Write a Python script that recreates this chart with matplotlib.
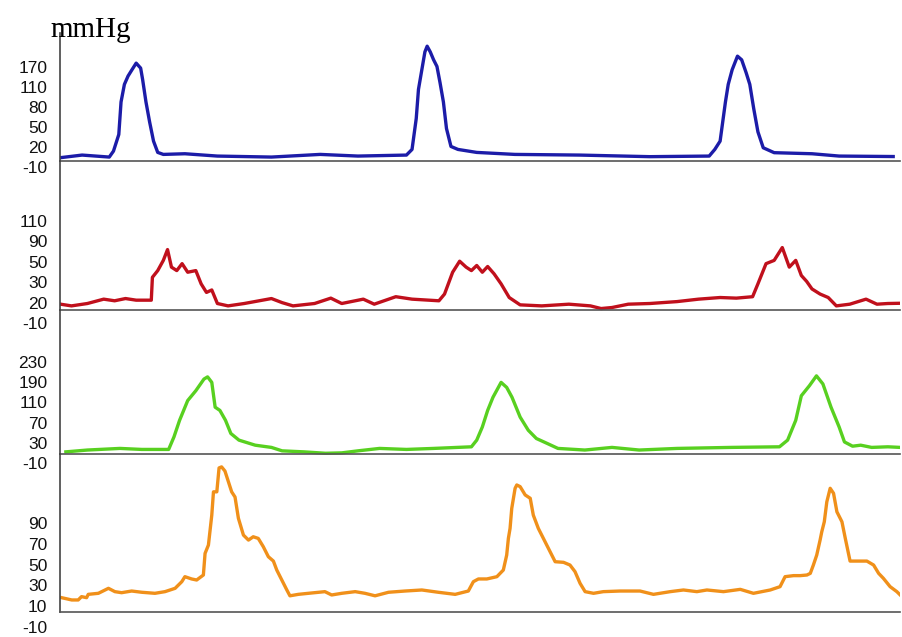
import numpy as np
import matplotlib
matplotlib.use("Agg")
import matplotlib.pyplot as plt

# time axis in seconds, pressures in mmHg
t_blue = [0.0, 0.079, 0.176, 0.191, 0.210, 0.218, 0.230, 0.243, 0.257, 0.272, 0.288, 0.295,
          0.307, 0.320, 0.334, 0.349, 0.369, 0.446, 0.562, 0.755, 0.929, 1.064, 1.237, 1.257,
          1.272, 1.280, 1.292, 1.303, 1.311, 1.322, 1.334, 1.346, 1.357, 1.369, 1.380, 1.396,
          1.421, 1.488, 1.624, 1.855, 2.106, 2.318, 2.338, 2.357, 2.376, 2.386, 2.400, 2.419,
          2.434, 2.450, 2.463, 2.477, 2.492, 2.511, 2.550, 2.685, 2.782, 2.975]
p_blue = [4, 8, 5, 14, 39, 88, 119, 144, 163, 183, 168, 134,
          88, 58, 29, 12, 9, 10, 6.5, 5, 9, 6.5, 8, 16.5,
          63, 107, 163, 217, 234, 217, 193, 173, 124, 88, 48, 21,
          16.5, 12, 9, 8, 5.6, 6.5, 16.5, 29, 88, 119, 163, 204,
          193, 154, 119, 78, 43, 19, 11.6, 10, 6.5, 5.8]

t_red = [0.002, 0.041, 0.098, 0.156, 0.195, 0.234, 0.272, 0.326, 0.330, 0.349, 0.369, 0.384,
         0.398, 0.417, 0.436, 0.456, 0.485, 0.504, 0.523, 0.542, 0.562, 0.600, 0.658, 0.755,
         0.793, 0.832, 0.909, 0.967, 1.006, 1.083, 1.122, 1.199, 1.257, 1.353, 1.373, 1.402,
         1.427, 1.450, 1.469, 1.488, 1.508, 1.527, 1.550, 1.575, 1.604, 1.643, 1.720, 1.817,
         1.894, 1.932, 1.971, 2.029, 2.106, 2.203, 2.280, 2.357, 2.415, 2.473, 2.492, 2.521,
         2.550, 2.579, 2.604, 2.627, 2.647, 2.666, 2.685, 2.714, 2.743, 2.772, 2.820, 2.878,
         2.917, 2.956, 2.994]
p_red = [17.7, 15.2, 18.7, 21.7, 20.9, 22, 21.2, 21.2, 34.8, 41.4, 52.8, 74,
         44.8, 41.4, 48.2, 39.8, 41.4, 29.2, 25, 26.2, 18.7, 15.2, 18.7, 22,
         20, 15.2, 18.7, 22.2, 18.7, 21.7, 17.7, 22.9, 21.7, 20.9, 24.2, 39.8,
         51.2, 44.8, 41.4, 46.4, 39.8, 45.4, 38.2, 29.2, 22.5, 16.7, 15.2, 17.7,
         15.2, 11.3, 12.8, 17.7, 18.7, 20.5, 21.7, 22.5, 22.2, 22.9, 29.2, 48.2,
         52.8, 78, 44.8, 52.8, 36.6, 30.8, 26.7, 24.2, 22.5, 15.2, 17.7, 21.7,
         17.7, 18.7, 19]

t_green = [0.021, 0.098, 0.214, 0.292, 0.388, 0.407, 0.427, 0.456, 0.485, 0.514, 0.527, 0.542,
           0.554, 0.571, 0.591, 0.610, 0.639, 0.697, 0.755, 0.793, 0.871, 0.948, 1.006, 1.064,
           1.141, 1.237, 1.334, 1.469, 1.488, 1.508, 1.527, 1.546, 1.575, 1.595, 1.614, 1.643,
           1.672, 1.701, 1.739, 1.778, 1.874, 1.971, 2.068, 2.203, 2.396, 2.569, 2.598, 2.627,
           2.647, 2.676, 2.701, 2.724, 2.753, 2.782, 2.801, 2.830, 2.859, 2.898, 2.956, 3.0]
p_green = [12, 15.6, 18.8, 16.8, 16.8, 41.6, 74.4, 117, 156, 196, 200.4, 189,
           100.4, 94, 74.4, 48.4, 35.2, 25.2, 20.8, 14, 12, 9.2, 10, 14,
           18.8, 16.8, 18.8, 22, 35.2, 61.2, 94, 130, 189, 169, 130, 80.8,
           54.8, 38.4, 28.8, 18.8, 15.6, 20.8, 15.6, 18.8, 20.8, 22, 35.2, 74.4,
           136, 176, 202.4, 182.8, 100.4, 61.2, 31.6, 23.2, 25.2, 20.8, 22, 20.8]

t_orange = [0.006, 0.042, 0.065, 0.077, 0.095, 0.101, 0.137, 0.173, 0.196, 0.220, 0.256, 0.292,
            0.339, 0.375, 0.411, 0.435, 0.446, 0.470, 0.488, 0.512, 0.518, 0.530, 0.542, 0.548,
            0.560, 0.568, 0.577, 0.589, 0.601, 0.613, 0.625, 0.637, 0.655, 0.673, 0.690, 0.708,
            0.726, 0.744, 0.762, 0.774, 0.792, 0.810, 0.821, 0.851, 0.887, 0.946, 0.970, 1.006,
            1.054, 1.089, 1.125, 1.173, 1.232, 1.292, 1.351, 1.411, 1.458, 1.476, 1.494, 1.524,
            1.560, 1.583, 1.595, 1.601, 1.607, 1.613, 1.625, 1.631, 1.643, 1.661, 1.679, 1.690,
            1.708, 1.732, 1.750, 1.768, 1.798, 1.821, 1.839, 1.857, 1.875, 1.905, 1.940, 2.000,
            2.071, 2.119, 2.179, 2.226, 2.274, 2.310, 2.369, 2.429, 2.476, 2.536, 2.571, 2.589,
            2.619, 2.643, 2.667, 2.679, 2.690, 2.702, 2.714, 2.720, 2.729, 2.738, 2.750, 2.762,
            2.774, 2.792, 2.804, 2.821, 2.845, 2.881, 2.905, 2.923, 2.940, 2.964, 2.988, 3.0]
p_orange = [18.2, 16, 16, 19.2, 18.2, 21.4, 22.4, 27.2, 24, 23, 24.6, 23.4,
            22.4, 24, 27.2, 33.6, 38.4, 36.2, 35.2, 40, 60.8, 68.8, 97.6, 120,
            120, 143, 144, 140, 130, 120, 115, 94.6, 78.4, 73.6, 76.8, 75.2,
            67.2, 57.6, 53.4, 44.8, 35.2, 25.6, 20, 21.4, 22.4, 24, 20.8, 22.4,
            24, 22.4, 20, 23.4, 24.6, 25.6, 23.4, 21.4, 24.6, 33.6, 36.2, 36.2,
            38.4, 44.8, 59.2, 75.2, 84.8, 104, 123.4, 126.6, 125, 117, 113.8, 97.6,
            84.8, 72, 62.4, 52.8, 52.2, 49.6, 43.2, 32, 24, 22.4, 24, 24.6,
            24.6, 21.4, 24, 25.6, 24, 25.6, 24, 26.2, 22.4, 25.6, 28.8, 38.4,
            39.4, 39.4, 40, 41.6, 49.6, 59.2, 73.6, 81.6, 91.2, 110.4, 123.4, 118.6,
            100.8, 91.2, 75.2, 53.4, 53.4, 53.4, 49.6, 41.6, 36.8, 28.8, 24, 20.8]

# tick labels of each trace (unevenly spaced values on evenly spaced ticks)
ticks_blue = [-10, 20, 50, 80, 110, 170]
ticks_red = [-10, 20, 30, 50, 90, 110]
ticks_green = [-10, 30, 70, 110, 190, 230]
ticks_orange = [-10, 10, 30, 50, 70, 90]


def tick_scale(vals):
    vals = np.asarray(vals, float)
    pos = np.arange(len(vals), dtype=float)

    def fwd(v):
        v = np.asarray(v, float)
        p = np.interp(v, vals, pos)
        p = np.where(v < vals[0], (v - vals[0]) / (vals[1] - vals[0]), p)
        p = np.where(v > vals[-1], pos[-1] + (v - vals[-1]) / (vals[-1] - vals[-2]), p)
        return p

    def inv(p):
        p = np.asarray(p, float)
        v = np.interp(p, pos, vals)
        v = np.where(p < 0, vals[0] + p * (vals[1] - vals[0]), v)
        v = np.where(p > pos[-1], vals[-1] + (p - pos[-1]) * (vals[-1] - vals[-2]), v)
        return v

    return fwd, inv


fig = plt.figure(figsize=(9.02, 6.37), dpi=100)

# (t, p, ticks, colour, axes rect, top in tick steps, baseline in mmHg)
panels = [
    (t_blue, p_blue, ticks_blue, "#1c1ca8", [0.0665, 0.7378, 0.9315, 0.2104], 6.73, -1),
    (t_red, p_red, ticks_red, "#c0101c", [0.0665, 0.4929, 0.9315, 0.2543], 7.94, 9),
    (t_green, p_green, ticks_green, "#58d020", [0.0665, 0.2732, 0.9315, 0.2402], 7.57, 8),
    (t_orange, p_orange, ticks_orange, "#f0901a", [0.0665, 0.0157, 0.9315, 0.2716], 8.32, 4.4),
]

for t, p, ticks, color, rect, ptop, base in panels:
    ax = fig.add_axes(rect)
    ax.set_facecolor("none")
    fwd, inv = tick_scale(ticks)
    ax.set_yscale("function", functions=(fwd, inv))
    ax.plot(t, p, color=color, lw=2.4, solid_joinstyle="round")
    ax.set_xlim(0, 3.0)
    ax.set_ylim(-10, float(inv(ptop)))
    ax.set_yticks(ticks)
    ax.set_yticklabels([str(v) for v in ticks], family=["Liberation Sans", "DejaVu Sans"],
                       fontsize=12.5, color="#111111")
    ax.tick_params(axis="y", length=0, pad=9)
    ax.set_xticks([])
    ax.spines["top"].set_visible(False)
    ax.spines["right"].set_visible(False)
    ax.spines["bottom"].set_position(("data", base))
    ax.spines["bottom"].set_color("#555555")
    ax.spines["bottom"].set_linewidth(1.2)
    ax.spines["left"].set_bounds(base, float(inv(ptop)))
    ax.spines["left"].set_color("#444444")
    ax.spines["left"].set_linewidth(1.2)

fig.text(50 / 902, 1 - 37 / 637, "mmHg", family=["Liberation Serif", "DejaVu Serif"],
         fontsize=21, va="baseline", ha="left")

fig.savefig("out.png", dpi=100)
plt.close("all")
